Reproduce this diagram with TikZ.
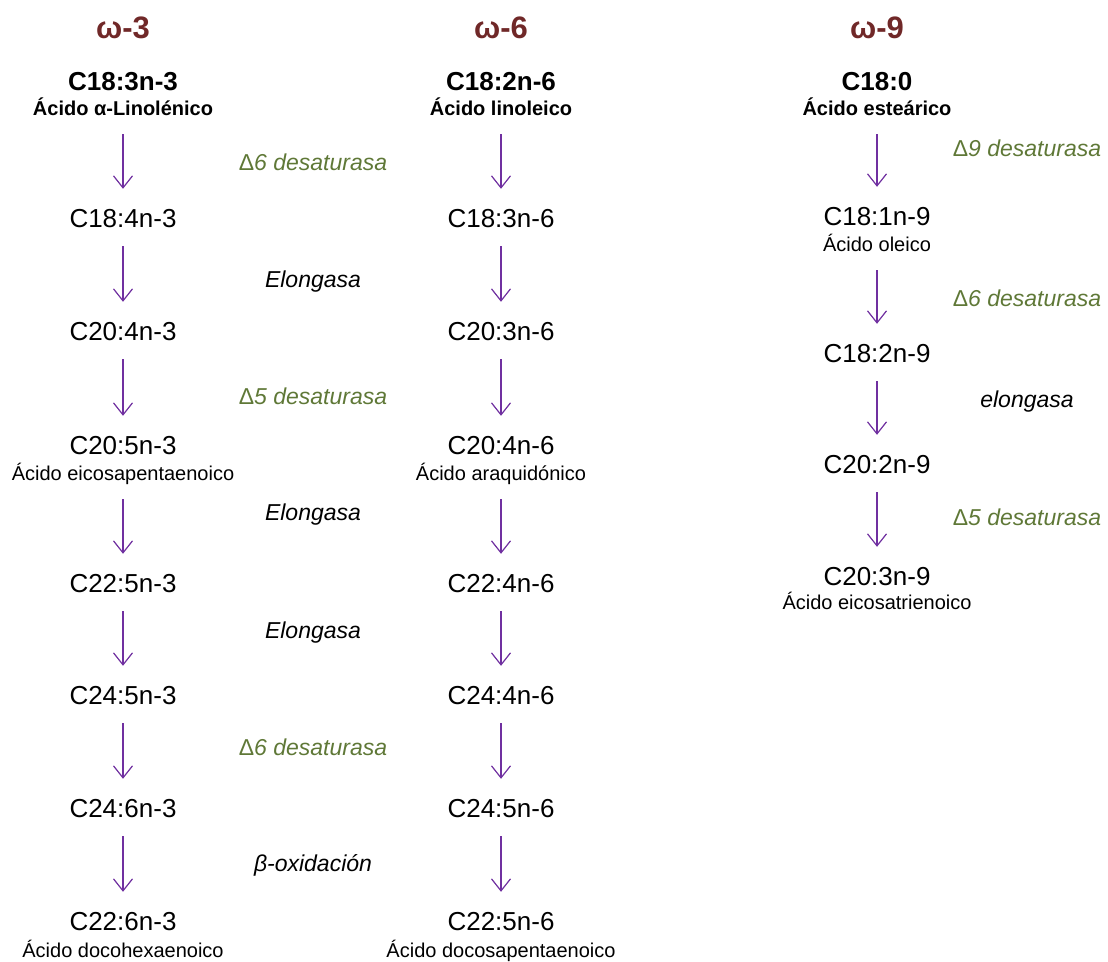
\documentclass[tikz,border=0pt]{standalone}
\usepackage{fontspec}
\setmainfont{Liberation Sans}
\usetikzlibrary{arrows.meta}
\definecolor{omega}{RGB}{112,40,40}
\definecolor{verde}{RGB}{95,120,55}
\definecolor{morado}{RGB}{112,48,160}
\begin{document}
\begin{tikzpicture}[x=1pt, y=-1pt,
    titulo/.style={font=\fontsize{31}{36}\selectfont\bfseries, text=omega,
      anchor=base, inner sep=0pt},
    acido/.style={font=\fontsize{26}{31}\selectfont, anchor=base,
      inner sep=0pt, text height=18pt, text depth=0pt},
    acidob/.style={acido, font=\fontsize{26}{31}\selectfont\bfseries},
    nombre/.style={font=\fontsize{20}{24}\selectfont, anchor=base,
      inner sep=0pt, text height=14pt, text depth=0pt},
    nombreb/.style={nombre, font=\fontsize{20}{24}\selectfont\bfseries},
    enzima/.style={font=\fontsize{23}{27}\selectfont\itshape, text=verde,
      anchor=base, inner sep=0pt},
    elong/.style={enzima, text=black},
    flecha/.style={draw=morado, line width=1.2pt,
      -{Straight Barb[length=12pt,width=19pt]},
      shorten <=19pt, shorten >=20pt}
  ]
    \useasboundingbox (0,0) rectangle (1108,961);

    % Titulos
    \node[titulo] (w3) at (123,38) {ω-3};
    \node[titulo] (w6) at (501,38) {ω-6};
    \node[titulo] (w9) at (877,38) {ω-9};

    % Serie omega-3
    \node[acidob] (a1) at (123,90) {C18:3n-3};
    \node[nombreb] (a1n) at (123,115) {Ácido α-Linolénico};
    \node[acido] (a2) at (123,227) {C18:4n-3};
    \node[acido] (a3) at (123,340) {C20:4n-3};
    \node[acido] (a4) at (123,454) {C20:5n-3};
    \node[nombre] (a4n) at (123,480) {Ácido eicosapentaenoico};
    \node[acido] (a5) at (123,592) {C22:5n-3};
    \node[acido] (a6) at (123,704) {C24:5n-3};
    \node[acido] (a7) at (123,817) {C24:6n-3};
    \node[acido] (a8) at (123,930) {C22:6n-3};
    \node[nombre] (a8n) at (123,957) {Ácido docohexaenoico};

    % Serie omega-6
    \node[acidob] (b1) at (501,90) {C18:2n-6};
    \node[nombreb] (b1n) at (501,115) {Ácido linoleico};
    \node[acido] (b2) at (501,227) {C18:3n-6};
    \node[acido] (b3) at (501,340) {C20:3n-6};
    \node[acido] (b4) at (501,454) {C20:4n-6};
    \node[nombre] (b4n) at (501,480) {Ácido araquidónico};
    \node[acido] (b5) at (501,592) {C22:4n-6};
    \node[acido] (b6) at (501,704) {C24:4n-6};
    \node[acido] (b7) at (501,817) {C24:5n-6};
    \node[acido] (b8) at (501,930) {C22:5n-6};
    \node[nombre] (b8n) at (501,957) {Ácido docosapentaenoico};

    % Serie omega-9
    \node[acidob] (c1) at (877,90) {C18:0};
    \node[nombreb] (c1n) at (877,115) {Ácido esteárico};
    \node[acido] (c2) at (877,225) {C18:1n-9};
    \node[nombre] (c2n) at (877,251) {Ácido oleico};
    \node[acido] (c3) at (877,362) {C18:2n-9};
    \node[acido] (c4) at (877,473) {C20:2n-9};
    \node[acido] (c5) at (877,585) {C20:3n-9};
    \node[nombre] (c5n) at (877,609) {Ácido eicosatrienoico};

    % Enzimas
    \node[enzima] (e1) at (313,170) {{\upshape Δ}6 desaturasa};
    \node[elong] (e2) at (313,287) {Elongasa};
    \node[enzima] (e3) at (313,404) {{\upshape Δ}5 desaturasa};
    \node[elong] (e4) at (313,520) {Elongasa};
    \node[elong] (e5) at (313,638) {Elongasa};
    \node[enzima] (e6) at (313,755) {{\upshape Δ}6 desaturasa};
    \node[elong] (e7) at (313,871) {β-oxidación};
    \node[enzima] (f1) at (1027,156) {{\upshape Δ}9 desaturasa};
    \node[enzima] (f2) at (1027,306) {{\upshape Δ}6 desaturasa};
    \node[elong] (f3) at (1027,407) {elongasa};
    \node[enzima] (f4) at (1027,525) {{\upshape Δ}5 desaturasa};

    % Flechas
    \draw[flecha] (a1n) -- (a2);
    \draw[flecha] (a2) -- (a3);
    \draw[flecha] (a3) -- (a4);
    \draw[flecha] (a4n) -- (a5);
    \draw[flecha] (a5) -- (a6);
    \draw[flecha] (a6) -- (a7);
    \draw[flecha] (a7) -- (a8);
    \draw[flecha] (b1n) -- (b2);
    \draw[flecha] (b2) -- (b3);
    \draw[flecha] (b3) -- (b4);
    \draw[flecha] (b4n) -- (b5);
    \draw[flecha] (b5) -- (b6);
    \draw[flecha] (b6) -- (b7);
    \draw[flecha] (b7) -- (b8);
    \draw[flecha] (c1n) -- (c2);
    \draw[flecha] (c2n) -- (c3);
    \draw[flecha] (c3) -- (c4);
    \draw[flecha] (c4) -- (c5);
  \end{tikzpicture}
\end{document}
